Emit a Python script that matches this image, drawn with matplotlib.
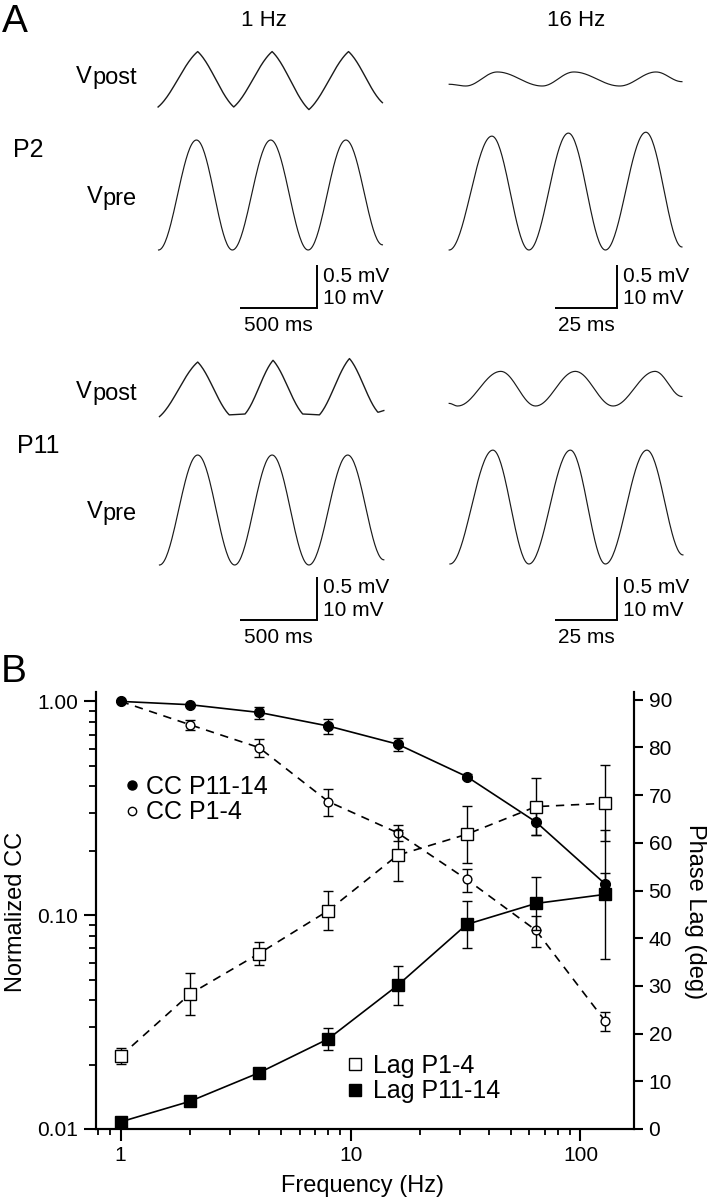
import numpy as np
import matplotlib
matplotlib.use('Agg')
import matplotlib.pyplot as plt
from matplotlib.lines import Line2D
from matplotlib.ticker import NullFormatter

plt.rcParams['font.family'] = ['Liberation Sans', 'DejaVu Sans']

W, H = 711, 1199

# ---- panel A: extrema of the traces (ms, mV above trough)
p2_slow_post_t = [20, 276, 509, 757, 995, 1251, 1470]
p2_slow_post_v = [0.0, 0.64, 0.0, 0.64, -0.03, 0.64, 0.05]
p2_slow_pre_t = [23, 268, 500, 748, 990, 1234, 1470]
p2_slow_pre_v = [0.0, 25.4, 0.0, 25.4, 0.0, 25.4, 1.2]
p2_fast_post_t = [1.7, 8.4, 21.2, 39.4, 52.2, 70.8, 85.5, 96.0]
p2_fast_post_v = [0.02, 0.0, 0.162, 0.0, 0.162, 0.0, 0.162, 0.05]
p2_fast_pre_t = [1.7, 19.0, 34.0, 50.0, 65.0, 81.4, 96.0]
p2_fast_pre_v = [0.0, 26.3, 0.0, 27.0, 0.0, 27.2, 0.7]

p11_slow_post_t = [29, 276, 480, 582, 763, 955, 1063, 1257, 1441, 1479]
p11_slow_post_v = [-0.03, 0.60, -0.01, 0.0, 0.62, 0.0, -0.01, 0.64, 0.02, 0.04]
p11_slow_pre_t = [29, 276, 515, 757, 995, 1246, 1479]
p11_slow_pre_v = [0.0, 25.4, 0.0, 25.4, 0.0, 25.4, 1.2]
p11_fast_post_t = [1.7, 5.1, 22.6, 36.7, 52.8, 68.1, 85.1, 96.0]
p11_fast_post_v = [0.03, 0.0, 0.40, 0.0, 0.40, 0.0, 0.40, 0.11]
p11_fast_pre_t = [2.0, 19.4, 34.0, 50.8, 65.0, 81.8, 96.4]
p11_fast_pre_v = [0.0, 26.3, 0.0, 26.3, 0.0, 26.3, 2.1]

# ---- panel B
freq = [1, 2, 4, 8, 16, 32, 64, 128]
cc_p11 = [1.0, 0.965, 0.888, 0.767, 0.631, 0.445, 0.273, 0.14]
cc_p11_err = [0.0, 0.01, 0.057, 0.061, 0.043, 0.012, 0.035, 0.018]
cc_p1 = [1.0, 0.778, 0.608, 0.34, 0.243, 0.147, 0.085, 0.032]
cc_p1_err = [0.0, 0.04, 0.058, 0.048, 0.021, 0.018, 0.014, 0.0034]
lag_p1 = [15.3, 28.3, 36.8, 45.8, 57.4, 61.8, 67.6, 68.3]
lag_p1_err = [1.6, 4.4, 2.5, 4.1, 5.4, 6.0, 6.0, 8.0]
lag_p11 = [1.5, 5.8, 11.8, 18.9, 30.1, 42.9, 47.3, 49.2]
lag_p11_err = [0.5, 0.6, 1.0, 2.3, 4.0, 5.0, 5.5, 13.5]

fig = plt.figure(figsize=(W / 100, H / 100), dpi=100)


def px_axes(left, top, width, height):
    # pixel box (origin top-left) -> figure axes
    return fig.add_axes([left / W, 1 - (top + height) / H, width / W, height / H])


def trace_axes(left, base, xs, ys, up, down, width=240):
    ax = px_axes(left, base - up, width, up + down)
    ax.set_xlim(0, width / xs)
    ax.set_ylim(-down / ys, up / ys)
    ax.axis('off')
    return ax


def eased(t, v, lin=0.0, n=40):
    # half-cosine (optionally blended with straight) between successive extrema
    ts, vs = [], []
    for i in range(len(t) - 1):
        s = np.linspace(0, 1, n, endpoint=False)
        w = lin * s + (1 - lin) * (1 - np.cos(np.pi * s)) / 2
        ts.append(t[i] + (t[i + 1] - t[i]) * s)
        vs.append(v[i] + (v[i + 1] - v[i]) * w)
    ts.append([t[-1]])
    vs.append([v[-1]])
    return np.concatenate(ts), np.concatenate(vs)


SLOW = dict(left=155, xs=0.1547, bar=500, bar_t0=549.5, label='500 ms')
FAST = dict(left=445, xs=2.468, bar=25, bar_t0=44.6, label='25 ms')
POST_YS = 86.6
PRE_YS = 4.33
trace_col = '#1a1a1a'

traces = [
    (SLOW, 107, p2_slow_post_t, p2_slow_post_v, 'post'),
    (FAST, 86, p2_fast_post_t, p2_fast_post_v, 'post'),
    (SLOW, 250, p2_slow_pre_t, p2_slow_pre_v, 'pre'),
    (FAST, 250, p2_fast_pre_t, p2_fast_pre_v, 'pre'),
    (SLOW, 414, p11_slow_post_t, p11_slow_post_v, 'post'),
    (FAST, 406, p11_fast_post_t, p11_fast_post_v, 'post'),
    (SLOW, 565, p11_slow_pre_t, p11_slow_pre_v, 'pre'),
    (FAST, 564, p11_fast_pre_t, p11_fast_pre_v, 'pre'),
]
bar_v0 = {(id(SLOW), 250): -13.5, (id(FAST), 250): -13.5,
          (id(SLOW), 565): -12.7, (id(FAST), 564): -12.9}

for col, base, t, v, kind in traces:
    if kind == 'post':
        ax = trace_axes(col['left'], base, col['xs'], POST_YS, 70, 15)
        if col is SLOW:
            tt, vv = eased(t, v, lin=0.6)
            ax.plot(tt, vv, color=trace_col, lw=1.0)
        else:
            tt, vv = eased(t, v)
            ax.plot(tt, vv, color=trace_col, lw=0.85)
    else:
        ax = trace_axes(col['left'], base, col['xs'], PRE_YS, 125, 95)
        tt, vv = eased(t, v)
        ax.plot(tt, vv, color=trace_col, lw=0.85)
        # scale bar
        t0, L = col['bar_t0'], col['bar']
        v0 = bar_v0[(id(col), base)]
        ax.plot([t0, t0 + L, t0 + L], [v0, v0, v0 + 10], color='k', lw=1.4,
                solid_joinstyle='miter', solid_capstyle='butt', clip_on=False)
        ax.annotate('0.5 mV', xy=(t0 + L, v0 + 10), xytext=(6, -16.7),
                    textcoords='offset pixels', ha='left', va='baseline', fontsize=15)
        ax.annotate('10 mV', xy=(t0 + L, v0), xytext=(6, 4),
                    textcoords='offset pixels', ha='left', va='baseline', fontsize=15)
        ax.annotate(col['label'], xy=(t0 + L / 2, v0), xytext=(0, -22.7),
                    textcoords='offset pixels', ha='center', va='baseline', fontsize=15)

# ---- panel B
axB = px_axes(96, 691.7, 538, 437.3)
axB.set_xscale('log')
axB.set_yscale('log')
axB.set_xlim(0.781, 170.9)
axB.set_ylim(0.01, 1.11)
ax2 = axB.twinx()
ax2.set_ylim(0, 91.7)

common = dict(color='k', lw=1.2, elinewidth=1.0, capsize=3.3, capthick=1.0)
axB.errorbar(freq, cc_p1, yerr=cc_p1_err, marker='o', ms=6.3, mfc='white', mec='k',
             mew=1.0, ls=(0, (5, 4)), zorder=2, **common)
axB.errorbar(freq, cc_p11, yerr=cc_p11_err, marker='o', ms=7, mfc='k', mec='k',
             ls='-', zorder=3, **common)
ax2.errorbar(freq, lag_p1, yerr=lag_p1_err, marker='s', ms=8, mfc='white', mec='k',
             mew=1.0, ls=(0, (5, 4)), **common)
ax2.errorbar(freq, lag_p11, yerr=lag_p11_err, marker='s', ms=8.3, mfc='k', mec='k',
             ls='-', **common)

for a in (axB, ax2):
    a.spines['top'].set_visible(False)
    for s in ('left', 'right', 'bottom'):
        a.spines[s].set_linewidth(1.5)

axB.set_yticks([0.01, 0.1, 1])
axB.set_yticklabels(['0.01', '0.10', '1.00'])
axB.yaxis.set_minor_formatter(NullFormatter())
axB.set_xticks([1, 10, 100])
axB.set_xticklabels(['1', '10', '100'])
axB.xaxis.set_minor_formatter(NullFormatter())
axB.tick_params(axis='y', which='major', direction='out', length=8.6, width=1.5,
                pad=4, labelsize=15, right=False)
axB.tick_params(axis='y', which='minor', direction='out', length=5, width=1.3, right=False)
axB.tick_params(axis='x', which='major', direction='out', length=8.6, width=1.5,
                pad=3.5, labelsize=15)
axB.tick_params(axis='x', which='minor', direction='out', length=4.3, width=1.3)
ax2.set_yticks(range(0, 91, 10))
ax2.tick_params(axis='y', direction='out', length=6.5, width=1.5, pad=4, labelsize=15)

cc_handles = [Line2D([], [], marker='o', ls='none', color='k', ms=6.5),
              Line2D([], [], marker='o', ls='none', mfc='white', mec='k', mew=1.0, ms=6)]
leg1 = axB.legend(cc_handles, ['CC P11-14', 'CC P1-4'], loc='center left',
                  bbox_to_anchor=(0.0539, 0.753), frameon=False, fontsize=18,
                  handlelength=0.6, handletextpad=0.26, borderpad=0, borderaxespad=0,
                  labelspacing=0.05)
lag_handles = [Line2D([], [], marker='s', ls='none', mfc='white', mec='k', mew=1.0, ms=8),
               Line2D([], [], marker='s', ls='none', color='k', ms=8.3)]
ax2.legend(lag_handles, ['Lag P1-4', 'Lag P11-14'], loc='center left',
           bbox_to_anchor=(0.468, 0.1148), frameon=False, fontsize=18,
           handlelength=0.6, handletextpad=0.42, borderpad=0, borderaxespad=0,
           labelspacing=0.05)

# ---- text overlay in pixel coordinates
ov = fig.add_axes([0, 0, 1, 1])
ov.set_xlim(0, W)
ov.set_ylim(H, 0)
ov.axis('off')

ov.text(1.7, 32, 'A', fontsize=28, ha='left', va='baseline')
ov.text(0.5, 681.7, 'B', fontsize=28, ha='left', va='baseline')
ov.text(264, 26, '1 Hz', fontsize=16, ha='center', va='baseline')
ov.text(576, 26, '16 Hz', fontsize=16, ha='center', va='baseline')
ov.text(13, 156.7, 'P2', fontsize=18, ha='left', va='baseline')
ov.text(17, 453.3, 'P11', fontsize=18, ha='left', va='baseline')

for base, sub in [(82.7, 'post'), (203.3, 'pre'), (398.3, 'post'), (518.3, 'pre')]:
    s = ov.text(136.7, base + 1.5, sub, fontsize=17, ha='right', va='baseline')
    ov.annotate('V', xy=(0, 0), xycoords=s, xytext=(0, 1.5), textcoords='offset pixels',
                ha='right', va='bottom', fontsize=17)

ov.text(16.5, 912, 'Normalized CC', fontsize=17, rotation=90, ha='center', va='center')
ov.text(695.5, 912, 'Phase Lag (deg)', fontsize=17, rotation=270, ha='center', va='center')
ov.text(362.5, 1191.7, 'Frequency (Hz)', fontsize=17, ha='center', va='baseline')

fig.savefig('out.png', dpi=100)
